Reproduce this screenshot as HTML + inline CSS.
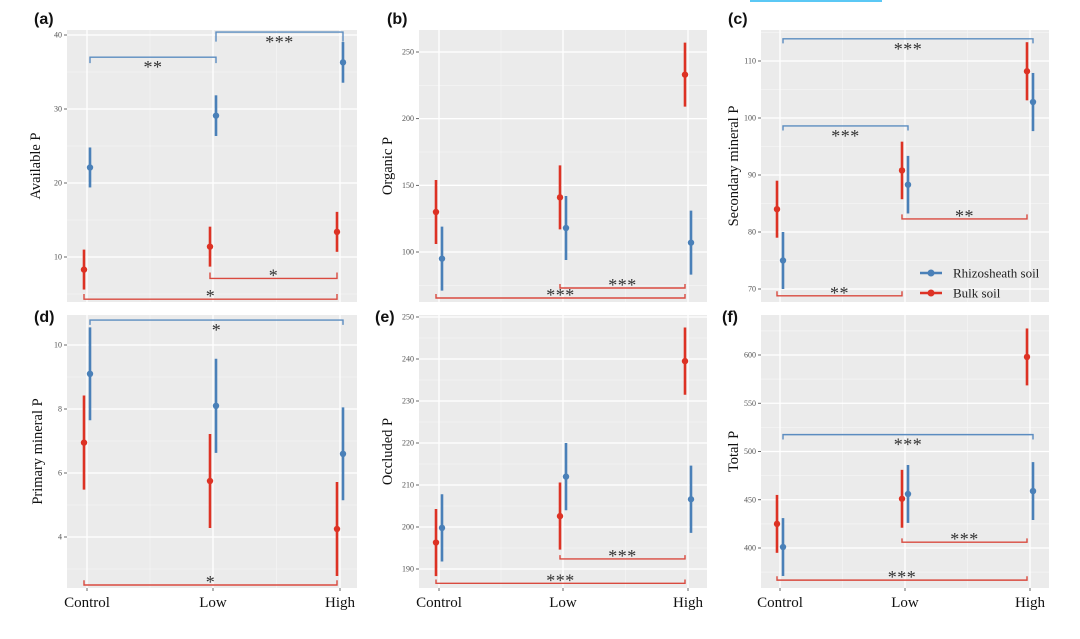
<!DOCTYPE html>
<html><head><meta charset="utf-8"><style>
body{margin:0;background:#fff;}
svg{display:block;font-family:"Liberation Serif",serif;}
</style></head><body>
<svg id="chart" width="1080" height="639" viewBox="0 0 1080 639" xmlns="http://www.w3.org/2000/svg">
<rect x="750" y="0" width="132" height="2" fill="#5bc8f5"/>
</svg>
<script>
const categories=["Control","Low","High"];
// panel a
const aBlue=[22.1,29.1,36.3], aBlueErr=[2.7,2.75,2.75];
const aRed=[8.3,11.4,13.4], aRedErr=[2.7,2.7,2.7];
const aTicks=[10,20,30,40];
// panel b
const bBlue=[95,118,107], bBlueErr=[24,24,24];
const bRed=[130,141,233], bRedErr=[24,24,24];
const bTicks=[100,150,200,250];
// panel c
const cBlue=[75,88.3,102.8], cBlueErr=[5,5.05,5.1];
const cRed=[84,90.8,108.2], cRedErr=[5,5.05,5.1];
const cTicks=[70,80,90,100,110];
// panel d
const dBlue=[9.1,8.1,6.6], dBlueErr=[1.45,1.47,1.45];
const dRed=[6.95,5.75,4.25], dRedErr=[1.47,1.47,1.47];
const dTicks=[4,6,8,10];
// panel e
const eBlue=[199.8,212,206.6], eBlueErr=[8,8,8];
const eRed=[196.3,202.6,239.5], eRedErr=[8,8,8];
const eTicks=[190,200,210,220,230,240,250];
// panel f
const fBlue=[401,456,459], fBlueErr=[30,30,30];
const fRed=[425,451,598], fRedErr=[30,30,29.5];
const fTicks=[400,450,500,550,600];

const BLUE="#4a80b8", RED="#dd3224", BLUE_B="#5b8cc0", RED_B="#d94a3f";
const svg=document.getElementById('chart');
const NS="http://www.w3.org/2000/svg";
function mk(tag,attrs,parent){const e=document.createElementNS(NS,tag);for(const k in attrs)e.setAttribute(k,attrs[k]);(parent||svg).appendChild(e);return e;}

const panels=[
 {id:"a",label:"(a)",title:"Available P",L:67,R:357,T:30,B:302,cx:[87,213,340],v0:10,p0:257,v1:40,p1:35,ticks:aTicks,blue:aBlue,blueErr:aBlueErr,red:aRed,redErr:aRedErr,lx:34,ly:24,titleX:40,cats:false,
  br:[["blue",0,1,37,-0.8,"**"],["blue",1,2,40.4,-1.3,"***"],["red",1,2,7.1,0.8,"*"],["red",0,2,4.3,0.7,"*"]]},
 {id:"b",label:"(b)",title:"Organic P",L:419,R:707,T:30,B:302,cx:[439,563,688],v0:100,p0:252,v1:250,p1:52,ticks:bTicks,blue:bBlue,blueErr:bBlueErr,red:bRed,redErr:bRedErr,lx:387,ly:24,titleX:392,cats:false,
  br:[["red",0,2,65.5,3,"***"],["red",1,2,73,3,"***"]]},
 {id:"c",label:"(c)",title:"Secondary mineral P",L:761,R:1049,T:30,B:302,cx:[780,905,1030],v0:70,p0:289,v1:110,p1:61,ticks:cTicks,blue:cBlue,blueErr:cBlueErr,red:cRed,redErr:cRedErr,lx:728,ly:24,titleX:738,cats:false,legend:true,
  br:[["blue",0,2,113.9,-0.8,"***"],["blue",0,1,98.6,-0.8,"***"],["red",1,2,82.3,0.8,"**"],["red",0,1,68.8,0.8,"**"]]},
 {id:"d",label:"(d)",title:"Primary mineral P",L:67,R:357,T:315,B:588,cx:[87,213,340],v0:4,p0:537,v1:10,p1:345,ticks:dTicks,blue:dBlue,blueErr:dBlueErr,red:dRed,redErr:dRedErr,lx:34,ly:322,titleX:42,cats:true,
  br:[["blue",0,2,10.78,-0.15,"*"],["red",0,2,2.5,0.15,"*"]]},
 {id:"e",label:"(e)",title:"Occluded P",L:419,R:707,T:315,B:588,cx:[439,563,688],v0:190,p0:569,v1:250,p1:317,ticks:eTicks,blue:eBlue,blueErr:eBlueErr,red:eRed,redErr:eRedErr,lx:375,ly:322,titleX:392,cats:true,
  br:[["red",1,2,192.4,0.9,"***"],["red",0,2,186.6,0.9,"***"]]},
 {id:"f",label:"(f)",title:"Total P",L:761,R:1049,T:315,B:588,cx:[780,905,1030],v0:400,p0:548,v1:600,p1:355,ticks:fTicks,blue:fBlue,blueErr:fBlueErr,red:fRed,redErr:fRedErr,lx:722,ly:322,titleX:738,cats:true,
  br:[["blue",0,2,517.5,-5,"***"],["red",1,2,406,4,"***"],["red",0,2,366.7,4,"***"]]}
];

panels.forEach(p=>{
 const g=mk('g',{});
 
 
 const y=v=>p.p0+(v-p.v0)*(p.p1-p.p0)/(p.v1-p.v0);
 const bg=mk('rect',{x:p.L,y:p.T,width:p.R-p.L,height:p.B-p.T,fill:"#ebebeb"},g);
 
 
 const step=p.ticks[1]-p.ticks[0];
 for(let i=-1;i<p.ticks.length;i++){const yy=y(p.ticks[0]+step*(i+0.5));if(yy>p.T&&yy<p.B)mk('line',{x1:p.L,x2:p.R,y1:yy,y2:yy,stroke:"#f5f5f5","stroke-width":0.7},g);}
 for(let i=0;i<2;i++){const xx=(p.cx[i]+p.cx[i+1])/2;mk('line',{x1:xx,x2:xx,y1:p.T,y2:p.B,stroke:"#f5f5f5","stroke-width":0.7},g);}
 p.ticks.forEach(t=>{
  const yy=y(t);
  const gl=mk('line',{x1:p.L,x2:p.R,y1:yy,y2:yy,stroke:"#fff","stroke-width":1.3},g);
  
  
  mk('line',{x1:p.L-3,x2:p.L,y1:yy,y2:yy,stroke:"#444","stroke-width":0.8},g);
  const tl=mk('text',{x:p.L-5,y:yy+2.5,"text-anchor":"end","font-size":8,fill:"#555"},g);
  tl.textContent=t;
  
  
 });
 p.cx.forEach((xx,i)=>{
  mk('line',{x1:xx,x2:xx,y1:p.T,y2:p.B,stroke:"#fff","stroke-width":1.3},g);
  if(p.cats){
   mk('line',{x1:xx,x2:xx,y1:p.B,y2:p.B+3,stroke:"#444","stroke-width":0.8},g);
   const cl=mk('text',{x:xx,y:607,"text-anchor":"middle","font-size":15,fill:"#111"},g);
   cl.textContent=categories[i];
   
   
  }
 });
 const yc=(p.T+p.B)/2;
 const at=mk('text',{x:p.titleX,y:yc,transform:`rotate(-90 ${p.titleX} ${yc})`,"text-anchor":"middle","font-size":14.5,fill:"#111"},g);
 at.textContent=p.title;
 
 
 const pl=mk('text',{x:p.lx,y:p.ly,"font-size":16,"font-weight":"bold","font-family":"Liberation Sans, sans-serif",fill:"#111"},g);
 pl.textContent=p.label;
 
 
 const series=[["red",p.red,p.redErr,RED,-3],["blue",p.blue,p.blueErr,BLUE,3]];
 series.forEach(([nm,vals,errs,col,dx])=>{
  vals.forEach((v,i)=>{
   const xx=p.cx[i]+dx;
   const eb=mk('line',{x1:xx,x2:xx,y1:y(v-errs[i]),y2:y(v+errs[i]),stroke:col,"stroke-width":2.6},g);
   
   
   const pt=mk('circle',{cx:xx,cy:y(v),r:3.2,fill:col},g);
   
   
  });
 });
 p.br.forEach(([nm,i0,i1,v,tk,lab])=>{
  const dx=nm==="red"?-3:3, col=nm==="red"?RED_B:BLUE_B;
  const x0=p.cx[i0]+dx, x1=p.cx[i1]+dx, yy=y(v), yt=y(v+tk);
  const br=mk('path',{d:`M${x0},${yt}V${yy}H${x1}V${yt}`,fill:"none",stroke:col,"stroke-width":1.4},g);
  
  
  const below=yt>yy;
  const st=mk('text',{x:(x0+x1)/2,y:below?yy+16:yy+3,"text-anchor":"middle","font-size":18,fill:"#333","letter-spacing":"0.5"},g);
  st.textContent=lab;
  
  
 });
 if(p.legend){
  const lg=mk('g',{},g);
  
  
  [["Rhizosheath soil",BLUE,273],["Bulk soil",RED,293]].forEach(([t,c,ly])=>{
   const le=mk('g',{},lg);
   
   
   mk('line',{x1:920,x2:942,y1:ly,y2:ly,stroke:c,"stroke-width":2.4},le);
   mk('circle',{cx:931,cy:ly,r:3.5,fill:c},le);
   const tx=mk('text',{x:953,y:ly+4.5,"font-size":13,fill:"#222"},le);
   tx.textContent=t;
  });
 }
});
</script>
</body></html>
